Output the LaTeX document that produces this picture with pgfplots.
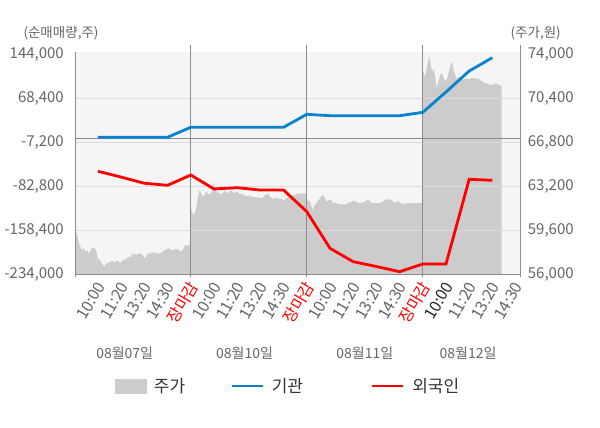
\documentclass[border=0pt]{standalone}
\usepackage{fontspec}
\setmainfont{Noto Sans CJK KR}
\usepackage{pgfplots}
\pgfplotsset{compat=1.18}
\definecolor{bgc}{HTML}{F5F5F5}
\definecolor{areac}{HTML}{CCCCCC}
\definecolor{gridc}{HTML}{DCDCDC}
\definecolor{axc}{HTML}{8C8C8C}
\definecolor{txtc}{HTML}{666666}
\definecolor{legc}{HTML}{333333}
\definecolor{bluec}{HTML}{0A82D0}
\definecolor{redc}{HTML}{FF0000}
\pgfplotstableread{
x p
-0.961 59380
-0.92 59400
-0.86 58900
-0.82 58540
-0.75 58200
-0.68 57990
-0.60 58100
-0.53 57850
-0.45 57950
-0.39 57720
-0.33 57900
-0.29 58130
-0.22 58180
-0.16 58120
-0.10 58050
-0.04 57600
0.00 57170
0.06 57250
0.12 57030
0.19 56850
0.26 56620
0.33 56800
0.40 56950
0.47 56900
0.54 57050
0.62 57110
0.69 56980
0.76 57030
0.83 57150
0.90 57000
0.98 56950
1.05 57100
1.12 57230
1.20 57180
1.27 57350
1.34 57440
1.41 57380
1.48 57720
1.55 57600
1.62 57680
1.69 57580
1.76 57700
1.84 57720
1.92 57550
2.01 57310
2.08 57500
2.16 57720
2.24 57650
2.33 57800
2.41 57770
2.50 57700
2.58 57750
2.67 57660
2.75 57800
2.84 57930
2.92 58000
3.00 58100
3.06 58130
3.13 58050
3.20 57930
3.28 58000
3.35 58100
3.42 58050
3.50 57950
3.59 57850
3.66 58000
3.72 58250
3.78 58400
3.85 58350
3.92 58400
3.99 58420
4.00 61400
4.05 61200
4.10 60800
4.17 60990
4.22 61300
4.28 61940
4.33 62500
4.38 62900
4.45 62600
4.53 62350
4.60 62550
4.67 62760
4.74 62600
4.81 62490
4.88 62700
4.95 63100
5.00 63530
5.05 63000
5.11 62800
5.17 62630
5.24 62700
5.31 62490
5.38 62650
5.46 62820
5.53 62700
5.60 62630
5.67 62750
5.75 62900
5.82 62700
5.89 62650
5.96 62760
6.04 62700
6.11 62550
6.18 62630
6.25 62500
6.32 62450
6.39 62430
6.47 62380
6.54 62450
6.61 62350
6.68 62300
6.75 62350
6.82 62270
6.90 62300
6.97 62250
7.04 62220
7.11 62300
7.18 62450
7.26 62500
7.33 62630
7.40 62400
7.47 62250
7.54 62160
7.61 62200
7.69 62280
7.76 62220
7.83 62150
7.90 62200
7.98 62100
8.05 62080
8.12 62200
8.19 62300
8.26 62350
8.33 62300
8.41 62450
8.48 62500
8.55 62550
8.62 62600
8.70 62580
8.77 62620
8.84 62630
8.91 62600
8.99 62650
9.00 62080
9.07 62000
9.14 61940
9.20 61600
9.25 61200
9.30 61500
9.35 61650
9.40 61810
9.47 62000
9.52 62100
9.57 62220
9.63 62400
9.70 62490
9.76 62300
9.81 62100
9.87 61940
9.93 62050
10.00 62140
10.06 62000
10.12 61900
10.17 61810
10.25 61850
10.34 61780
10.43 61750
10.50 61700
10.57 61750
10.65 61670
10.72 61780
10.79 61850
10.86 61860
10.93 61950
11.00 62000
11.08 62000
11.15 61900
11.22 61850
11.29 61810
11.36 61850
11.43 61900
11.51 61940
11.58 62050
11.64 62140
11.70 62000
11.78 61850
11.85 61810
11.93 61850
12.01 61800
12.08 61830
12.16 61810
12.23 61900
12.30 62000
12.37 62080
12.44 62150
12.52 62100
12.59 62140
12.66 62050
12.73 61900
12.80 61810
12.87 61900
12.93 62000
13.00 61900
13.08 61800
13.16 61780
13.23 61750
13.31 61800
13.38 61820
13.46 61790
13.53 61810
13.60 61830
13.68 61820
13.79 61830
13.90 61820
13.99 61810
14.00 72720
14.02 72580
14.06 72300
14.09 72170
14.13 72500
14.17 72860
14.22 73300
14.28 73860
14.31 73500
14.34 73130
14.38 72800
14.43 72580
14.48 72900
14.53 72200
14.57 71600
14.60 71220
14.65 71600
14.71 72040
14.76 72300
14.81 72470
14.85 72300
14.88 72170
14.92 71950
14.96 71760
15.01 71900
15.06 72040
15.10 72400
15.14 72720
15.20 73100
15.25 73400
15.30 73000
15.34 72580
15.40 72300
15.46 72040
15.53 72100
15.60 72170
15.67 72000
15.75 71900
15.82 72000
15.89 72040
15.96 71950
16.03 71980
16.10 72050
16.18 72040
16.25 72000
16.32 72040
16.40 71980
16.47 71900
16.54 71800
16.61 71710
16.68 71650
16.75 71630
16.83 71550
16.90 71490
16.97 71520
17.04 71490
17.10 71600
17.16 71630
17.21 71550
17.25 71490
17.33 71450
17.40 71430
}\pricetable
\pgfplotstableread{
x v
0 1500
1 1500
2 1500
3 1500
4 18600
5 18600
6 18600
7 18600
8 18600
9 40900
10 38500
11 38500
12 38500
13 38500
14 44300
15 79200
16 115300
17 138200
}\insttable
\pgfplotstableread{
x v
0 -57000
1 -67000
2 -77600
3 -81100
4 -63400
5 -87400
6 -85200
7 -89200
8 -89200
9 -126400
10 -189300
11 -212300
12 -220600
13 -229500
14 -216300
15 -216300
16 -70800
17 -72500
}\fortable
\begin{document}
\begin{tikzpicture}
\path[use as bounding box, fill=white] (0pt,0pt) rectangle (600pt,428pt);
\begin{axis}[
  at={(75.7pt,153.7pt)}, anchor=south west,
  width=444.3pt, height=222.6pt, scale only axis,
  xmin=-0.961, xmax=18.19, ymin=56000, ymax=74213,
  scaled y ticks=false,
  axis line style={draw=none},
  axis background/.style={fill=bgc},
  xtick=\empty,
  ytick={56000,59600,63200,66800,70400,74000},
  yticklabels={{56,000},{59,600},{63,200},{66,800},{70,400},{74,000}},
  ytick pos=right, yticklabel pos=right,
  major tick length=0pt,
  yticklabel style={font=\fontsize{15}{18}\selectfont, text=txtc, anchor=west, inner sep=0pt, xshift=7.7pt},
]
\addplot[fill=areac, draw=none] table[x=x,y=p] {\pricetable} \closedcycle;
\end{axis}
\begin{axis}[
  at={(75.7pt,153.7pt)}, anchor=south west,
  width=444.3pt, height=222.6pt, scale only axis,
  xmin=-0.961, xmax=18.19, ymin=-234000, ymax=148470,
  scaled y ticks=false,
  clip=false,
  axis line style={draw=none},
  xtick={0,...,18},
  xticklabels={10:00,11:20,13:20,14:30,\textcolor{redc}{장마감},10:00,11:20,13:20,14:30,\textcolor{redc}{장마감},10:00,11:20,13:20,14:30,\textcolor{redc}{장마감},\textcolor{black!85}{10:00},11:20,13:20,14:30},
  xticklabel style={font=\fontsize{16}{18}\selectfont, text=txtc, inner sep=0pt, xshift=3pt, yshift=-9pt, rotate=60, anchor=east},
  ytick={-234000,-158400,-82800,-7200,68400,144000},
  yticklabels={{-234,000},{-158,400},{-82,800},{-7,200},{68,400},{144,000}},
  ytick pos=left,
  major tick length=0pt,
  yticklabel style={font=\fontsize{15}{18}\selectfont, text=txtc, anchor=east, inner sep=0pt, xshift=-11.7pt},
  extra y ticks={-158400,-82800,-7200,68400},
  extra y tick labels={},
  extra y tick style={grid=major},
  major grid style={gridc, line width=0.9pt},
  legend columns=3,
  legend cell align=left,
  legend image code/.code={\draw[#1, line width=2.2pt] (0pt,0pt) -- (31pt,0pt);},
  legend style={draw=none, fill=none, at={(0.0869,-0.5018)}, anchor=west, inner sep=0pt,
    nodes={inner sep=0pt, font=\fontsize{17}{20}\selectfont, text=legc},
    /tikz/every odd column/.append style={column sep=8pt}},
]
\draw[axc, line width=0.9pt] (axis cs:-0.961,0) -- (axis cs:18.19,0);
\draw[axc, line width=0.9pt] (axis cs:-0.961,-234000) -- (axis cs:18.19,-234000);
\draw[axc, line width=0.9pt] ([yshift=-2.4pt]axis cs:-0.961,-234000) -- (axis cs:-0.961,148470);
\draw[axc, line width=0.9pt] ([yshift=-2.4pt]axis cs:18.19,-234000) -- ([yshift=6.7pt]axis cs:18.19,148470);
\draw[axc, line width=0.9pt] ([yshift=-2.4pt]axis cs:4,-234000) -- ([yshift=6.7pt]axis cs:4,148470);
\draw[axc, line width=0.9pt] ([yshift=-2.4pt]axis cs:9,-234000) -- ([yshift=6.7pt]axis cs:9,148470);
\draw[axc, line width=0.9pt] ([yshift=-2.4pt]axis cs:14,-234000) -- ([yshift=6.7pt]axis cs:14,148470);
\addlegendimage{legend image code/.code={\fill[areac] (0pt,-7pt) rectangle (31pt,7pt);}}
\addlegendentry{\makebox[76.7pt][l]{주가}}
\addplot[bluec, line width=2.8pt] table[x=x,y=v] {\insttable};
\addlegendentry{\makebox[99.3pt][l]{기관}}
\addplot[redc, line width=2.8pt] table[x=x,y=v] {\fortable};
\addlegendentry{외국인}
\node[font=\fontsize{14}{16}\selectfont, text=txtc] at ([yshift=-78.7pt]axis cs:1.15,-234000) {08월07일};
\node[font=\fontsize{14}{16}\selectfont, text=txtc] at ([yshift=-78.7pt]axis cs:6.32,-234000) {08월10일};
\node[font=\fontsize{14}{16}\selectfont, text=txtc] at ([yshift=-78.7pt]axis cs:11.5,-234000) {08월11일};
\node[font=\fontsize{14}{16}\selectfont, text=txtc] at ([yshift=-78.7pt]axis cs:15.95,-234000) {08월12일};
\end{axis}
\node[font=\fontsize{13.5}{16}\selectfont, text=txtc] at (61pt,394.7pt) {(순매매량,주)};
\node[font=\fontsize{13.5}{16}\selectfont, text=txtc] at (535.7pt,394.7pt) {(주가,원)};
\end{tikzpicture}
\end{document}
